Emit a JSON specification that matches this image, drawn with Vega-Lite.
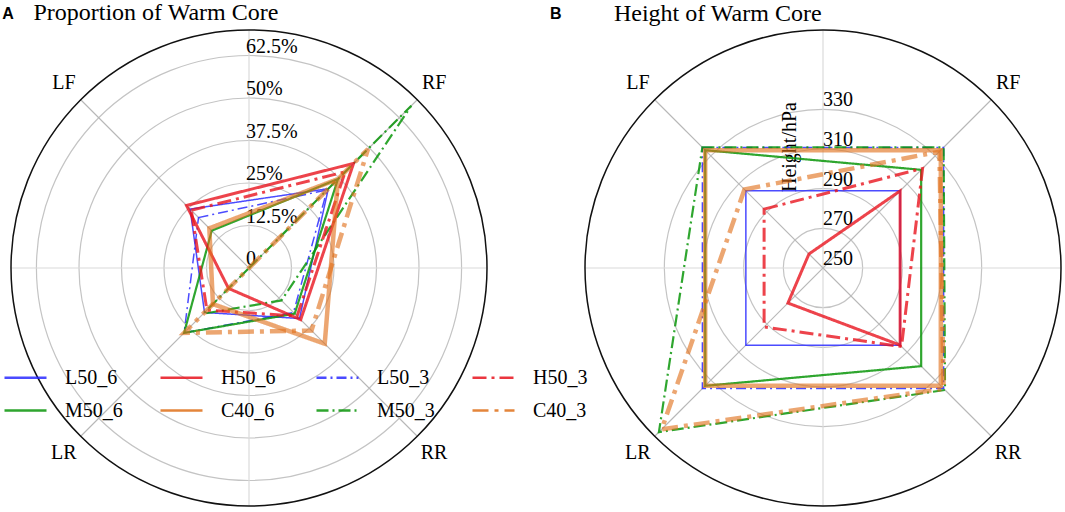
{
  "$schema": "https://vega.github.io/schema/vega-lite/v6.json",
  "background": "white",
  "padding": {"left": 2, "top": 1, "right": 0, "bottom": 0},
  "autosize": {"type": "pad"},
  "config": {"view": {"stroke": null}, "text": {"font": "Liberation Serif", "color": "black"}},
  "datasets": {
    "prop": [
      {"series": "L50_6", "dir": "LF", "value": 24.5}, {"series": "L50_6", "dir": "RF", "value": 33}, {"series": "L50_6", "dir": "RR", "value": 21}, {"series": "L50_6", "dir": "LR", "value": 18.5},
      {"series": "M50_6", "dir": "LF", "value": 15.5}, {"series": "M50_6", "dir": "RF", "value": 37}, {"series": "M50_6", "dir": "RR", "value": 19}, {"series": "M50_6", "dir": "LR", "value": 27},
      {"series": "H50_6", "dir": "LF", "value": 26}, {"series": "H50_6", "dir": "RF", "value": 43.5}, {"series": "H50_6", "dir": "RR", "value": 21.5}, {"series": "H50_6", "dir": "LR", "value": 8.5},
      {"series": "C40_6", "dir": "LF", "value": 16.5}, {"series": "C40_6", "dir": "RF", "value": 37}, {"series": "C40_6", "dir": "RR", "value": 31.5}, {"series": "C40_6", "dir": "LR", "value": 15},
      {"series": "L50_3", "dir": "LF", "value": 21}, {"series": "L50_3", "dir": "RF", "value": 32.5}, {"series": "L50_3", "dir": "RR", "value": 18.5}, {"series": "L50_3", "dir": "LR", "value": 27},
      {"series": "M50_3", "dir": "LF", "value": 0}, {"series": "M50_3", "dir": "RF", "value": 67.5}, {"series": "M50_3", "dir": "RR", "value": 13.5}, {"series": "M50_3", "dir": "LR", "value": 19},
      {"series": "H50_3", "dir": "LF", "value": 24}, {"series": "H50_3", "dir": "RF", "value": 40}, {"series": "H50_3", "dir": "RR", "value": 20}, {"series": "H50_3", "dir": "LR", "value": 17.5},
      {"series": "C40_3", "dir": "LF", "value": 0}, {"series": "C40_3", "dir": "RF", "value": 49.5}, {"series": "C40_3", "dir": "RR", "value": 26}, {"series": "C40_3", "dir": "LR", "value": 27}
    ],
    "height": [
      {"series": "L50_6", "dir": "LF", "value": 305}, {"series": "L50_6", "dir": "RF", "value": 305}, {"series": "L50_6", "dir": "RR", "value": 305}, {"series": "L50_6", "dir": "LR", "value": 305},
      {"series": "M50_6", "dir": "LF", "value": 334}, {"series": "M50_6", "dir": "RF", "value": 320}, {"series": "M50_6", "dir": "RR", "value": 320}, {"series": "M50_6", "dir": "LR", "value": 334},
      {"series": "H50_6", "dir": "LF", "value": 260}, {"series": "H50_6", "dir": "RF", "value": 305}, {"series": "H50_6", "dir": "RR", "value": 305}, {"series": "H50_6", "dir": "LR", "value": 275},
      {"series": "C40_6", "dir": "LF", "value": 334}, {"series": "C40_6", "dir": "RF", "value": 334}, {"series": "C40_6", "dir": "RR", "value": 334}, {"series": "C40_6", "dir": "LR", "value": 334},
      {"series": "L50_3", "dir": "LF", "value": 336}, {"series": "L50_3", "dir": "RF", "value": 336}, {"series": "L50_3", "dir": "RR", "value": 336}, {"series": "L50_3", "dir": "LR", "value": 336},
      {"series": "M50_3", "dir": "LF", "value": 336}, {"series": "M50_3", "dir": "RF", "value": 336}, {"series": "M50_3", "dir": "RR", "value": 337}, {"series": "M50_3", "dir": "LR", "value": 367},
      {"series": "H50_3", "dir": "LF", "value": 292}, {"series": "H50_3", "dir": "RF", "value": 321}, {"series": "H50_3", "dir": "RR", "value": 306}, {"series": "H50_3", "dir": "LR", "value": 292},
      {"series": "C40_3", "dir": "LF", "value": 306}, {"series": "C40_3", "dir": "RF", "value": 333}, {"series": "C40_3", "dir": "RR", "value": 336}, {"series": "C40_3", "dir": "LR", "value": 365}
    ]
  },
  "spacing": 98,
  "bounds": "flush",
  "resolve": {"scale": {"radius": "independent", "x": "independent", "y": "independent"}},
  "hconcat": [
    {
      "width": 476,
      "height": 476,
      "layer": [
        {
          "data": {"values": [{"r": 12.5}, {"r": 25}, {"r": 37.5}, {"r": 50}, {"r": 62.5}]},
          "mark": {"type": "arc", "theta": 0, "theta2": 6.2832, "filled": false, "stroke": "#c4c4c4", "strokeWidth": 1.2},
          "encoding": {"radius": {"field": "r", "type": "quantitative", "stack": null, "scale": {"type": "linear", "domain": [0, 70], "range": [0, 238], "zero": true}}}
        },
        {
          "data": {"values": [{"a": 0}, {"a": 90}]},
          "transform": [
            {"calculate": "70*cos(datum.a*PI/180)", "as": "x1"},
            {"calculate": "70*sin(datum.a*PI/180)", "as": "y1"},
            {"calculate": "-datum.x1", "as": "x2"},
            {"calculate": "-datum.y1", "as": "y2"}
          ],
          "mark": {"type": "rule", "stroke": "#dadada", "strokeWidth": 1.2},
          "encoding": {
            "x": {"field": "x1", "type": "quantitative", "scale": {"domain": [-70, 70], "nice": false, "zero": false}, "axis": null},
            "y": {"field": "y1", "type": "quantitative", "scale": {"domain": [-70, 70], "nice": false, "zero": false}, "axis": null},
            "x2": {"field": "x2"},
            "y2": {"field": "y2"}
          }
        },
        {
          "data": {"values": [{"a": 45}, {"a": 135}]},
          "transform": [
            {"calculate": "70*cos(datum.a*PI/180)", "as": "x1"},
            {"calculate": "70*sin(datum.a*PI/180)", "as": "y1"},
            {"calculate": "-datum.x1", "as": "x2"},
            {"calculate": "-datum.y1", "as": "y2"}
          ],
          "mark": {"type": "rule", "stroke": "#b8b8b8", "strokeWidth": 1.2},
          "encoding": {
            "x": {"field": "x1", "type": "quantitative"},
            "y": {"field": "y1", "type": "quantitative"},
            "x2": {"field": "x2"},
            "y2": {"field": "y2"}
          }
        },
        {
          "data": {"values": [{"r": 70}]},
          "mark": {"type": "arc", "theta": 0, "theta2": 6.2832, "filled": false, "stroke": "#111111", "strokeWidth": 1.5},
          "encoding": {"radius": {"field": "r", "type": "quantitative", "stack": null}}
        },
        {
          "data": {"values": [{"v": 0, "t": "0"}, {"v": 12.5, "t": "12.5%"}, {"v": 25, "t": "25%"}, {"v": 37.5, "t": "37.5%"}, {"v": 50, "t": "50%"}, {"v": 62.5, "t": "62.5%"}]},
          "mark": {"type": "text", "align": "left", "baseline": "alphabetic", "dx": -3, "dy": -3, "fontSize": 20},
          "encoding": {
            "x": {"datum": 0, "type": "quantitative"},
            "y": {"field": "v", "type": "quantitative"},
            "text": {"field": "t"}
          }
        },
        {
          "data": {"name": "prop"},
          "transform": [
            {"filter": {"field": "series", "oneOf": ["L50_6", "L50_3"]}},
            {"calculate": "indexof(['LF','RF','RR','LR'], datum.dir)", "as": "k"},
            {"calculate": "PI*(0.75-0.5*datum.k)", "as": "a"},
            {"calculate": "datum.value*cos(datum.a)", "as": "px"},
            {"calculate": "datum.value*sin(datum.a)", "as": "py"}
          ],
          "mark": {"type": "line", "interpolate": "linear-closed", "strokeWidth": 1.5, "opacity": 0.85},
          "encoding": {
            "x": {"field": "px", "type": "quantitative"},
            "y": {"field": "py", "type": "quantitative"},
            "order": {"field": "k"},
            "color": {
              "field": "series", "type": "nominal",
              "scale": {"domain": ["L50_6", "M50_6", "H50_6", "C40_6", "L50_3", "M50_3", "H50_3", "C40_3"], "range": ["#2b2bff", "#0a960a", "#e8141e", "#e0701a", "#2b2bff", "#0a960a", "#e8141e", "#e0701a"]},
              "legend": {"title": null, "orient": "none", "legendX": -8, "legendY": 325, "columns": 4, "gridAlign": "all", "columnPadding": 32, "rowPadding": -13, "symbolType": "stroke", "symbolSize": 1764, "symbolStrokeWidth": 2.5, "symbolOpacity": 1, "labelFont": "Liberation Serif", "labelFontSize": 20, "labelColor": "black", "labelOffset": 17, "padding": 0, "labelLimit": 0}
            },
            "strokeDash": {
              "field": "series", "type": "nominal",
              "scale": {"domain": ["L50_6", "M50_6", "H50_6", "C40_6", "L50_3", "M50_3", "H50_3", "C40_3"], "range": [[1, 0], [1, 0], [1, 0], [1, 0], [10, 4, 2, 4], [12, 4, 2, 4], [14, 5, 3, 5], [16, 6, 4, 6]]},
              "legend": {"title": null, "orient": "none", "legendX": -8, "legendY": 325, "columns": 4, "gridAlign": "all", "columnPadding": 32, "rowPadding": -13, "symbolType": "stroke", "symbolSize": 1764, "symbolStrokeWidth": 2.5, "symbolOpacity": 1, "labelFont": "Liberation Serif", "labelFontSize": 20, "labelColor": "black", "labelOffset": 17, "padding": 0, "labelLimit": 0}
            }
          }
        },
        {
          "data": {"name": "prop"},
          "transform": [
            {"filter": {"field": "series", "oneOf": ["M50_6", "M50_3"]}},
            {"calculate": "indexof(['LF','RF','RR','LR'], datum.dir)", "as": "k"},
            {"calculate": "PI*(0.75-0.5*datum.k)", "as": "a"},
            {"calculate": "datum.value*cos(datum.a)", "as": "px"},
            {"calculate": "datum.value*sin(datum.a)", "as": "py"}
          ],
          "mark": {"type": "line", "interpolate": "linear-closed", "strokeWidth": 2.2, "opacity": 0.85},
          "encoding": {
            "x": {"field": "px", "type": "quantitative"},
            "y": {"field": "py", "type": "quantitative"},
            "order": {"field": "k"},
            "color": {"field": "series", "type": "nominal"},
            "strokeDash": {"field": "series", "type": "nominal"}
          }
        },
        {
          "data": {"name": "prop"},
          "transform": [
            {"filter": {"field": "series", "oneOf": ["H50_6", "H50_3"]}},
            {"calculate": "indexof(['LF','RF','RR','LR'], datum.dir)", "as": "k"},
            {"calculate": "PI*(0.75-0.5*datum.k)", "as": "a"},
            {"calculate": "datum.value*cos(datum.a)", "as": "px"},
            {"calculate": "datum.value*sin(datum.a)", "as": "py"}
          ],
          "mark": {"type": "line", "interpolate": "linear-closed", "strokeWidth": 3, "opacity": 0.8},
          "encoding": {
            "x": {"field": "px", "type": "quantitative"},
            "y": {"field": "py", "type": "quantitative"},
            "order": {"field": "k"},
            "color": {"field": "series", "type": "nominal"},
            "strokeDash": {"field": "series", "type": "nominal"}
          }
        },
        {
          "data": {"name": "prop"},
          "transform": [
            {"filter": {"field": "series", "oneOf": ["C40_6", "C40_3"]}},
            {"calculate": "indexof(['LF','RF','RR','LR'], datum.dir)", "as": "k"},
            {"calculate": "PI*(0.75-0.5*datum.k)", "as": "a"},
            {"calculate": "datum.value*cos(datum.a)", "as": "px"},
            {"calculate": "datum.value*sin(datum.a)", "as": "py"}
          ],
          "mark": {"type": "line", "interpolate": "linear-closed", "strokeWidth": 4.5, "opacity": 0.62},
          "encoding": {
            "x": {"field": "px", "type": "quantitative"},
            "y": {"field": "py", "type": "quantitative"},
            "order": {"field": "k"},
            "color": {"field": "series", "type": "nominal"},
            "strokeDash": {"field": "series", "type": "nominal"}
          }
        },
        {
          "data": {"values": [{"dir": "LF"}, {"dir": "RF"}, {"dir": "RR"}, {"dir": "LR"}]},
          "transform": [
            {"calculate": "indexof(['LF','RF','RR','LR'], datum.dir)", "as": "k"},
            {"calculate": "PI*(0.75-0.5*datum.k)", "as": "a"},
            {"calculate": "77*cos(datum.a)", "as": "px"},
            {"calculate": "77*sin(datum.a)", "as": "py"}
          ],
          "mark": {"type": "text", "align": "center", "baseline": "middle", "fontSize": 20},
          "encoding": {
            "x": {"field": "px", "type": "quantitative"},
            "y": {"field": "py", "type": "quantitative"},
            "text": {"field": "dir"}
          }
        },
        {
          "data": {"values": [{"t": "A"}]},
          "mark": {"type": "text", "align": "left", "baseline": "alphabetic", "font": "Liberation Sans", "fontWeight": "bold", "fontSize": 16},
          "encoding": {"x": {"datum": -72.6, "type": "quantitative"}, "y": {"datum": 73.1, "type": "quantitative"}, "text": {"field": "t"}}
        },
        {
          "data": {"values": [{"t": "Proportion of Warm Core"}]},
          "mark": {"type": "text", "align": "left", "baseline": "alphabetic", "fontSize": 24},
          "encoding": {"x": {"datum": -63.4, "type": "quantitative"}, "y": {"datum": 72.8, "type": "quantitative"}, "text": {"field": "t"}}
        }
      ]
    },
    {
      "width": 476,
      "height": 476,
      "layer": [
        {
          "data": {"values": [{"r": 20}, {"r": 40}, {"r": 60}, {"r": 80}]},
          "mark": {"type": "arc", "theta": 0, "theta2": 6.2832, "filled": false, "stroke": "#c4c4c4", "strokeWidth": 1.2},
          "encoding": {"radius": {"field": "r", "type": "quantitative", "stack": null, "scale": {"type": "linear", "domain": [0, 120], "range": [0, 238], "zero": true}}}
        },
        {
          "data": {"values": [{"a": 0}, {"a": 90}]},
          "transform": [
            {"calculate": "120*cos(datum.a*PI/180)", "as": "x1"},
            {"calculate": "120*sin(datum.a*PI/180)", "as": "y1"},
            {"calculate": "-datum.x1", "as": "x2"},
            {"calculate": "-datum.y1", "as": "y2"}
          ],
          "mark": {"type": "rule", "stroke": "#dadada", "strokeWidth": 1.2},
          "encoding": {
            "x": {"field": "x1", "type": "quantitative", "scale": {"domain": [-120, 120], "nice": false, "zero": false}, "axis": null},
            "y": {"field": "y1", "type": "quantitative", "scale": {"domain": [-120, 120], "nice": false, "zero": false}, "axis": null},
            "x2": {"field": "x2"},
            "y2": {"field": "y2"}
          }
        },
        {
          "data": {"values": [{"a": 45}, {"a": 135}]},
          "transform": [
            {"calculate": "120*cos(datum.a*PI/180)", "as": "x1"},
            {"calculate": "120*sin(datum.a*PI/180)", "as": "y1"},
            {"calculate": "-datum.x1", "as": "x2"},
            {"calculate": "-datum.y1", "as": "y2"}
          ],
          "mark": {"type": "rule", "stroke": "#b8b8b8", "strokeWidth": 1.2},
          "encoding": {
            "x": {"field": "x1", "type": "quantitative"},
            "y": {"field": "y1", "type": "quantitative"},
            "x2": {"field": "x2"},
            "y2": {"field": "y2"}
          }
        },
        {
          "data": {"values": [{"r": 120}]},
          "mark": {"type": "arc", "theta": 0, "theta2": 6.2832, "filled": false, "stroke": "#111111", "strokeWidth": 1.5},
          "encoding": {"radius": {"field": "r", "type": "quantitative", "stack": null}}
        },
        {
          "data": {"values": [{"v": 0, "t": "250"}, {"v": 20, "t": "270"}, {"v": 40, "t": "290"}, {"v": 60, "t": "310"}, {"v": 80, "t": "330"}]},
          "mark": {"type": "text", "align": "left", "baseline": "alphabetic", "dx": 0, "dy": -3, "fontSize": 20},
          "encoding": {
            "x": {"datum": 0, "type": "quantitative"},
            "y": {"field": "v", "type": "quantitative"},
            "text": {"field": "t"}
          }
        },
        {
          "data": {"values": [{"t": "Height/hPa"}]},
          "mark": {"type": "text", "align": "center", "baseline": "middle", "angle": 270, "fontSize": 20},
          "encoding": {"x": {"datum": -16.6, "type": "quantitative"}, "y": {"datum": 61, "type": "quantitative"}, "text": {"field": "t"}}
        },
        {
          "data": {"name": "height"},
          "transform": [
            {"filter": {"field": "series", "oneOf": ["L50_6", "L50_3"]}},
            {"calculate": "indexof(['LF','RF','RR','LR'], datum.dir)", "as": "k"},
            {"calculate": "PI*(0.75-0.5*datum.k)", "as": "a"},
            {"calculate": "(datum.value-250)*cos(datum.a)", "as": "px"},
            {"calculate": "(datum.value-250)*sin(datum.a)", "as": "py"}
          ],
          "mark": {"type": "line", "interpolate": "linear-closed", "strokeWidth": 1.5, "opacity": 0.85},
          "encoding": {
            "x": {"field": "px", "type": "quantitative"},
            "y": {"field": "py", "type": "quantitative"},
            "order": {"field": "k"},
            "color": {
              "field": "series", "type": "nominal",
              "scale": {"domain": ["L50_6", "M50_6", "H50_6", "C40_6", "L50_3", "M50_3", "H50_3", "C40_3"], "range": ["#2b2bff", "#0a960a", "#e8141e", "#e0701a", "#2b2bff", "#0a960a", "#e8141e", "#e0701a"]},
              "legend": {"title": null, "orient": "none", "legendX": -8, "legendY": 325, "columns": 4, "gridAlign": "all", "columnPadding": 32, "rowPadding": -13, "symbolType": "stroke", "symbolSize": 1764, "symbolStrokeWidth": 2.5, "symbolOpacity": 1, "labelFont": "Liberation Serif", "labelFontSize": 20, "labelColor": "black", "labelOffset": 17, "padding": 0, "labelLimit": 0}
            },
            "strokeDash": {
              "field": "series", "type": "nominal",
              "scale": {"domain": ["L50_6", "M50_6", "H50_6", "C40_6", "L50_3", "M50_3", "H50_3", "C40_3"], "range": [[1, 0], [1, 0], [1, 0], [1, 0], [10, 4, 2, 4], [12, 4, 2, 4], [14, 5, 3, 5], [16, 6, 4, 6]]},
              "legend": {"title": null, "orient": "none", "legendX": -8, "legendY": 325, "columns": 4, "gridAlign": "all", "columnPadding": 32, "rowPadding": -13, "symbolType": "stroke", "symbolSize": 1764, "symbolStrokeWidth": 2.5, "symbolOpacity": 1, "labelFont": "Liberation Serif", "labelFontSize": 20, "labelColor": "black", "labelOffset": 17, "padding": 0, "labelLimit": 0}
            }
          }
        },
        {
          "data": {"name": "height"},
          "transform": [
            {"filter": {"field": "series", "oneOf": ["M50_6", "M50_3"]}},
            {"calculate": "indexof(['LF','RF','RR','LR'], datum.dir)", "as": "k"},
            {"calculate": "PI*(0.75-0.5*datum.k)", "as": "a"},
            {"calculate": "(datum.value-250)*cos(datum.a)", "as": "px"},
            {"calculate": "(datum.value-250)*sin(datum.a)", "as": "py"}
          ],
          "mark": {"type": "line", "interpolate": "linear-closed", "strokeWidth": 2.2, "opacity": 0.85},
          "encoding": {
            "x": {"field": "px", "type": "quantitative"},
            "y": {"field": "py", "type": "quantitative"},
            "order": {"field": "k"},
            "color": {"field": "series", "type": "nominal"},
            "strokeDash": {"field": "series", "type": "nominal"}
          }
        },
        {
          "data": {"name": "height"},
          "transform": [
            {"filter": {"field": "series", "oneOf": ["H50_6", "H50_3"]}},
            {"calculate": "indexof(['LF','RF','RR','LR'], datum.dir)", "as": "k"},
            {"calculate": "PI*(0.75-0.5*datum.k)", "as": "a"},
            {"calculate": "(datum.value-250)*cos(datum.a)", "as": "px"},
            {"calculate": "(datum.value-250)*sin(datum.a)", "as": "py"}
          ],
          "mark": {"type": "line", "interpolate": "linear-closed", "strokeWidth": 3, "opacity": 0.8},
          "encoding": {
            "x": {"field": "px", "type": "quantitative"},
            "y": {"field": "py", "type": "quantitative"},
            "order": {"field": "k"},
            "color": {"field": "series", "type": "nominal"},
            "strokeDash": {"field": "series", "type": "nominal"}
          }
        },
        {
          "data": {"name": "height"},
          "transform": [
            {"filter": {"field": "series", "oneOf": ["C40_6", "C40_3"]}},
            {"calculate": "indexof(['LF','RF','RR','LR'], datum.dir)", "as": "k"},
            {"calculate": "PI*(0.75-0.5*datum.k)", "as": "a"},
            {"calculate": "(datum.value-250)*cos(datum.a)", "as": "px"},
            {"calculate": "(datum.value-250)*sin(datum.a)", "as": "py"}
          ],
          "mark": {"type": "line", "interpolate": "linear-closed", "strokeWidth": 4.5, "opacity": 0.62},
          "encoding": {
            "x": {"field": "px", "type": "quantitative"},
            "y": {"field": "py", "type": "quantitative"},
            "order": {"field": "k"},
            "color": {"field": "series", "type": "nominal"},
            "strokeDash": {"field": "series", "type": "nominal"}
          }
        },
        {
          "data": {"values": [{"dir": "LF"}, {"dir": "RF"}, {"dir": "RR"}, {"dir": "LR"}]},
          "transform": [
            {"calculate": "indexof(['LF','RF','RR','LR'], datum.dir)", "as": "k"},
            {"calculate": "PI*(0.75-0.5*datum.k)", "as": "a"},
            {"calculate": "132*cos(datum.a)", "as": "px"},
            {"calculate": "132*sin(datum.a)", "as": "py"}
          ],
          "mark": {"type": "text", "align": "center", "baseline": "middle", "fontSize": 20},
          "encoding": {
            "x": {"field": "px", "type": "quantitative"},
            "y": {"field": "py", "type": "quantitative"},
            "text": {"field": "dir"}
          }
        },
        {
          "data": {"values": [{"t": "B"}]},
          "mark": {"type": "text", "align": "left", "baseline": "alphabetic", "font": "Liberation Sans", "fontWeight": "bold", "fontSize": 16},
          "encoding": {"x": {"datum": -137.6, "type": "quantitative"}, "y": {"datum": 125.3, "type": "quantitative"}, "text": {"field": "t"}}
        },
        {
          "data": {"values": [{"t": "Height of Warm Core"}]},
          "mark": {"type": "text", "align": "left", "baseline": "alphabetic", "fontSize": 24},
          "encoding": {"x": {"datum": -105.4, "type": "quantitative"}, "y": {"datum": 124.3, "type": "quantitative"}, "text": {"field": "t"}}
        }
      ]
    }
  ]
}
